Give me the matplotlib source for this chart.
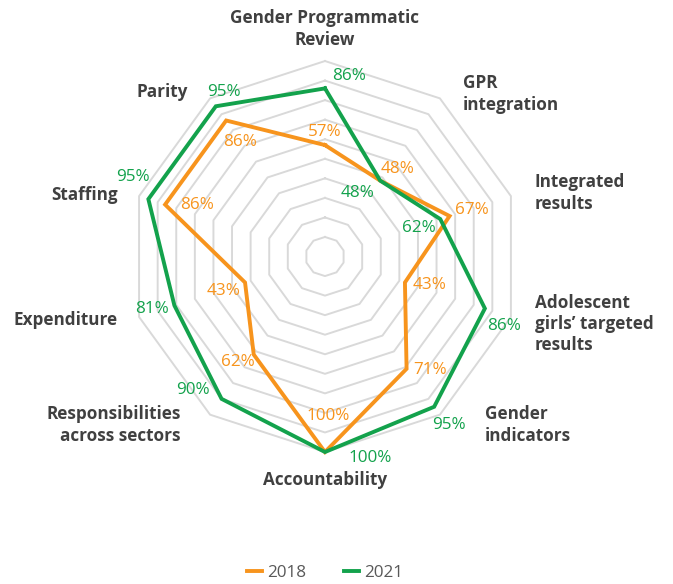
import numpy as np
import matplotlib
matplotlib.use('Agg')
import matplotlib.pyplot as plt

plt.rcParams['font.family'] = ['Open Sans', 'DejaVu Sans']

categories = ['Gender Programmatic\nReview', 'GPR\nintegration', 'Integrated\nresults',
              'Adolescent\ngirls\u2019 targeted\nresults', 'Gender\nindicators', 'Accountability',
              'Responsibilities\nacross sectors', 'Expenditure', 'Staffing', 'Parity']
values_2018 = [57, 48, 67, 43, 71, 100, 62, 43, 86, 86]
values_2021 = [86, 48, 62, 86, 95, 100, 90, 81, 95, 95]

orange = '#F7941D'
green = '#13A24C'
grid_col = '#D9D9D9'
text_col = '#404040'

W, H = 673, 584

# value label offsets in pixels from each vertex (dx, dy)
off_2018 = [(0, 13), (17, 12), (22, 6), (25, -3), (23, -1), (3, 36), (-16, -7), (-21, -9), (32, 0), (14, -21)]
off_2021 = [(24, 12), (-23, -12), (-21, -9), (19, -18), (15, -18), (45, -6), (-29, 9), (-22, -4), (-15, 22), (8, 14)]
# category label anchors in pixels (x, y from top, alignment)
cat_pos = [(325, 29, 'center'), (463, 94, 'left'), (535, 193, 'left'), (535, 324, 'left'),
           (485, 425, 'left'), (325, 480, 'center'), (181, 425, 'right'), (118, 320, 'right'),
           (118, 195, 'right'), (188, 92, 'right')]

n = len(categories)
theta = np.arange(n) * 2 * np.pi / n
theta_c = np.append(theta, theta[0])

fig = plt.figure(figsize=(W / 100, H / 100), dpi=100)
ax = fig.add_axes([0.1924, 0.2260, 0.581, 0.6695], projection='polar')
ax.set_theta_offset(np.pi / 2)
ax.set_theta_direction(-1)
ax.set_ylim(0, 100)
ax.grid(False)
ax.spines['polar'].set_visible(False)
ax.set_xticks([])
ax.set_yticks([])
ax.patch.set_visible(False)

for r in range(10, 101, 10):
    ax.plot(theta_c, [r] * (n + 1), color=grid_col, lw=1.4, zorder=1, clip_on=False)

for vals, col, offs, lab in [(values_2018, orange, off_2018, '2018'),
                             (values_2021, green, off_2021, '2021')]:
    ax.plot(theta_c, vals + vals[:1], color=col, lw=2.8, label=lab, zorder=3,
            clip_on=False, solid_joinstyle='miter')
    for t, v, (dx, dy) in zip(theta, vals, offs):
        ax.annotate(f'{v}%', (t, v), xytext=(dx, dy), textcoords='offset pixels',
                    ha='center', va='center', color=col, fontsize=12.3, zorder=4)

for c, (x, y, ha) in zip(categories, cat_pos):
    fig.text(x / W, 1 - y / H, c, ha=ha, va='center', multialignment=ha,
             color=text_col, fontsize=12.3, fontweight='bold', linespacing=1.25)

fig.legend(loc='center', bbox_to_anchor=(0.483, 0.019), ncol=2, frameon=False,
           handlelength=0.9, handletextpad=0.3, columnspacing=2.2,
           fontsize=12.3, labelcolor='#595959')

fig.savefig('out.png', dpi=100)
